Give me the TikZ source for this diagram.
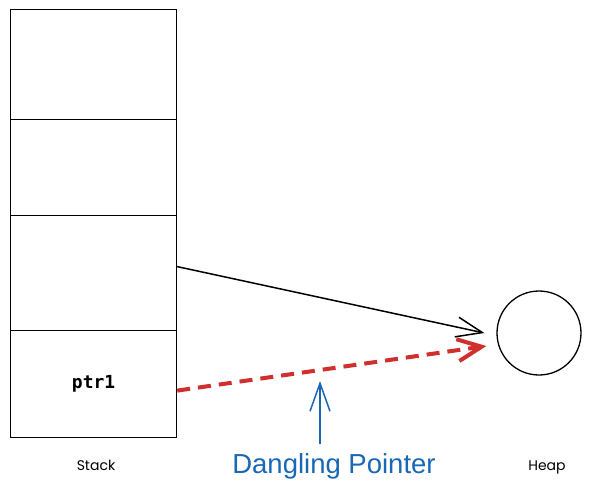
\documentclass[tikz,border=0pt]{standalone}
\usepackage{fontspec}
\setmainfont{Liberation Sans}
\newfontfamily\monof{DejaVu Sans Mono}
\newfontfamily\handf{Poppins}
\usetikzlibrary{arrows.meta}
\definecolor{exred}{HTML}{D12E2E}
\definecolor{exblue}{HTML}{1A68B5}
\tikzset{
  cell/.style={draw=black, line width=1.2pt, anchor=north west, inner sep=0pt, minimum width=166pt},
  barb/.style={-{Straight Barb[length=26pt,width=20pt,line width=1.5pt]}},
  lbl/.style={font=\handf\fontsize{14}{16}\selectfont, inner sep=0pt}
}
\begin{document}
\begin{tikzpicture}[x=1pt,y=-1pt]
\useasboundingbox (0,0) rectangle (591,491);
\fill[white] (0,0) rectangle (591,491);
\node[cell, minimum height=110pt] (c1) at (10,9) {};
\node[cell, minimum height=96pt] (c2) at (10,119) {};
\node[cell, minimum height=115pt] (c3) at (10,215) {};
\node[cell, minimum height=107pt] (c4) at (10,330) {};
\node[font=\monof\bfseries\fontsize{18}{20}\selectfont, inner sep=0pt] (ptr) at (c4.center) {ptr1};
\node[draw=black, line width=1.3pt, circle, minimum size=84pt, inner sep=0pt] (heap) at (539,333) {};
\node[lbl] (stack) at (96,465) {Stack};
\node[lbl] (heaplbl) at (547,467) {Heap};
\node[font=\fontsize{27.5}{30}\selectfont, text=exblue, inner sep=0pt] (dp) at (334,466) {Dangling Pointer};
\coordinate (bstart) at (320,444);
\coordinate (btip) at (320,381);
\draw[barb, line width=1.5pt] ([yshift=6.5pt]c3.east) -- ([xshift=-12pt]heap.west);
\draw[exred, line width=4pt, dash pattern=on 13pt off 8pt,
  -{Straight Barb[length=24pt,width=22pt,line width=4pt]}] ([yshift=-6.5pt]c4.east) -- ([xshift=-10pt,yshift=-13pt]heap.west);
\draw[exblue, line width=1.5pt, -{Straight Barb[length=28pt,width=20pt,line width=1.5pt]}] (bstart) -- (btip);
\end{tikzpicture}
\end{document}
